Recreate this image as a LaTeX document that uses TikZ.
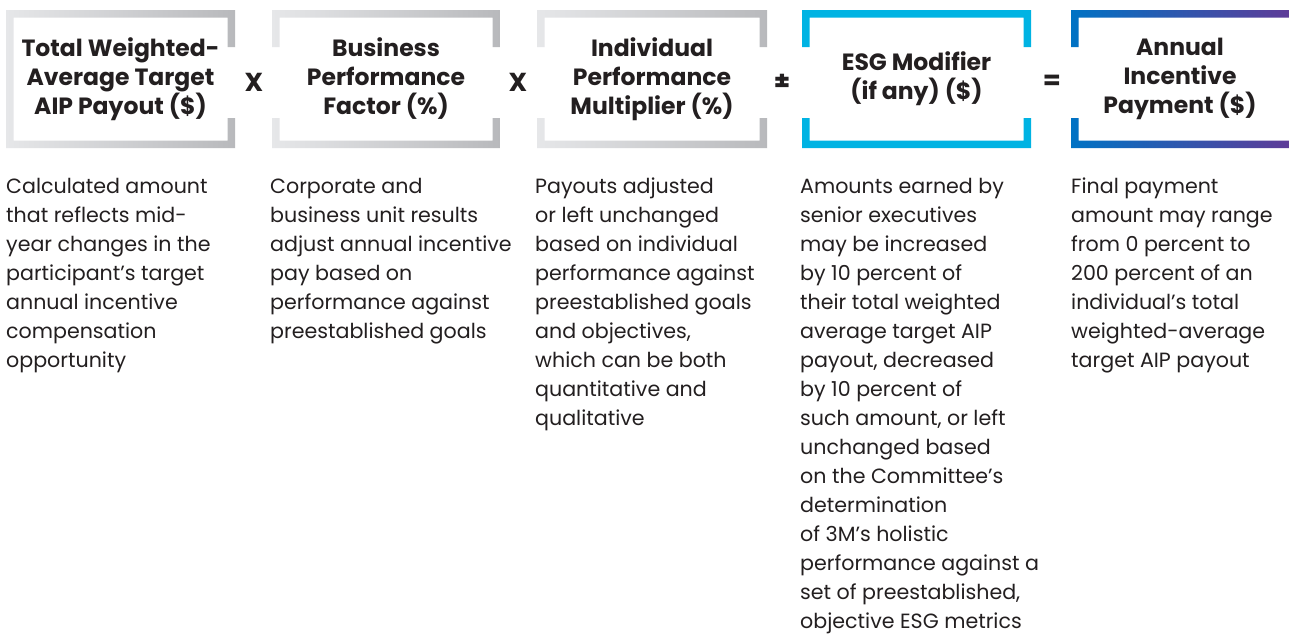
\documentclass[tikz,border=0pt]{standalone}
\usepackage{fontspec}
\setmainfont{Poppins}
\definecolor{txt}{HTML}{231F20}
\definecolor{grayL}{HTML}{E6E7E9}
\definecolor{grayR}{HTML}{B8B9BC}
\definecolor{esgcyan}{HTML}{00B3E3}
\definecolor{payblue}{HTML}{0072C4}
\definecolor{paypurple}{HTML}{5E3C98}
\newcommand\lstrut{\rule{0pt}{15pt}}
\begin{document}
\begin{tikzpicture}[x=1pt,y=-1pt,
  title/.style={font=\fontsize{23.5}{29}\selectfont\bfseries, text=txt, align=center, inner sep=0pt},
  desc/.style={font=\fontsize{20.6}{29}\selectfont, text=txt, align=left, inner sep=0pt, anchor=north west},
  op/.style={font=\fontsize{26}{28}\selectfont\bfseries, text=txt, inner sep=0pt}]
\useasboundingbox[fill=white] (0,0) rectangle (1289,635);
% frames
\shade[left color=grayL, right color=grayR]
  (6,10) rectangle (235,17.5) (6,140.5) rectangle (235,148) (6,10) rectangle (13.5,148)
  (227.5,10) rectangle (235,47) (227.5,118) rectangle (235,148);
\shade[left color=grayL, right color=grayR]
  (272,10) rectangle (500,17.5) (272,140.5) rectangle (500,148)
  (272,10) rectangle (279.5,47) (272,118) rectangle (279.5,148)
  (492.5,10) rectangle (500,47) (492.5,118) rectangle (500,148);
\shade[left color=grayL, right color=grayR]
  (537,10) rectangle (767,17.5) (537,140.5) rectangle (767,148)
  (537,10) rectangle (544.5,47) (537,118) rectangle (544.5,148)
  (759.5,10) rectangle (767,47) (759.5,118) rectangle (767,148);
\fill[esgcyan]
  (802,10) rectangle (1031,17.5) (802,140.5) rectangle (1031,148)
  (802,10) rectangle (809.5,47) (802,118) rectangle (809.5,148)
  (1023.5,10) rectangle (1031,47) (1023.5,118) rectangle (1031,148);
\shade[left color=payblue, right color=paypurple]
  (1071,10) rectangle (1289,17.5) (1071,140.5) rectangle (1289,148)
  (1071,10) rectangle (1078.5,47) (1071,118) rectangle (1078.5,148);
% titles
\node[title] (b1) at (120.5,79) {Total Weighted-\\Average Target\\AIP Payout (\$)};
\node[title] (b2) at (386,79) {Business\\Performance\\Factor (\%)};
\node[title] (b3) at (652,79) {Individual\\Performance\\Multiplier (\%)};
\node[title] (b4) at (916.5,79) {ESG Modifier\\(if any) (\$)};
\node[title] (b5) at (1180,79) {Annual\\Incentive\\Payment (\$)};
% operators
\node[op] (o1) at (254,82) {X};
\node[op] (o2) at (518,82) {X};
\node[op] (o3) at (782,82) {±};
\node[op] (o4) at (1052,82) {=};
% descriptions
\node[desc] (d1) at (6,178) {\lstrut Calculated amount\\that reflects mid-\\year changes in the\\participant’s target\\annual incentive\\compensation\\opportunity};
\node[desc] (d2) at (270,178) {\lstrut Corporate and\\business unit results\\adjust annual incentive\\pay based on\\performance against\\preestablished goals};
\node[desc] (d3) at (535,178) {\lstrut Payouts adjusted\\or left unchanged\\based on individual\\performance against\\preestablished goals\\and objectives,\\which can be both\\quantitative and\\qualitative};
\node[desc] (d4) at (800,178) {\lstrut Amounts earned by\\senior executives\\may be increased\\by 10 percent of\\their total weighted\\average target AIP\\payout, decreased\\by 10 percent of\\such amount, or left\\unchanged based\\on the Committee’s\\determination\\of 3M’s holistic\\performance against a\\set of preestablished,\\objective ESG metrics};
\node[desc] (d5) at (1071,178) {\lstrut Final payment\\amount may range\\from 0 percent to\\200 percent of an\\individual’s total\\weighted-average\\target AIP payout};
\end{tikzpicture}
\end{document}
